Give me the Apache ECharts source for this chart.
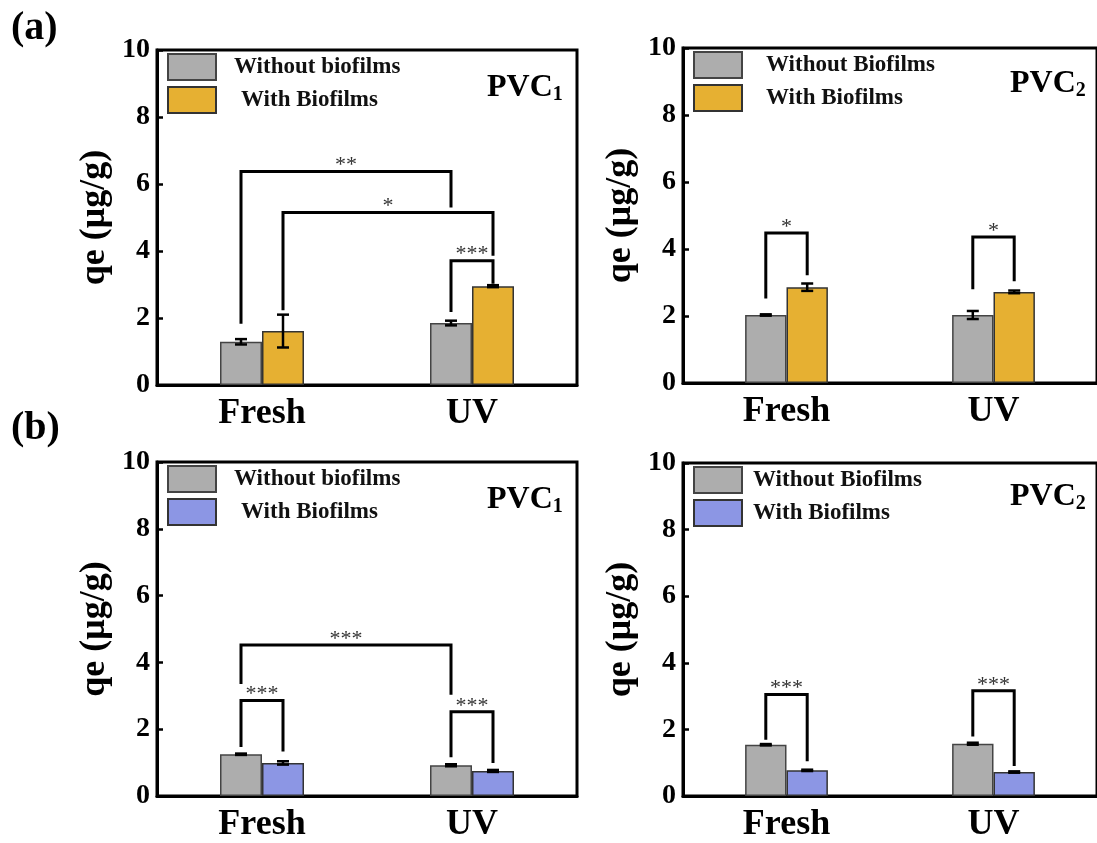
<!DOCTYPE html>
<html>
<head>
<meta charset="utf-8">
<script src="https://cdn.jsdelivr.net/npm/echarts@6/dist/echarts.min.js"></script>
<style>
  html, body { margin: 0; padding: 0; background: #fff; }
  #chart { width: 1097px; height: 843px; }
</style>
</head>
<body>
<div id="chart"></div>
<script>
// categories on x
const categories = ['Fresh', 'UV']

// (a) PVC1
const a1Without = [1.29, 1.85]
const a1WithoutErr = [0.08, 0.07]
const a1With = [1.61, 2.95]
const a1WithErr = [0.49, 0.03]
// (a) PVC2
const a2Without = [2.03, 2.03]
const a2WithoutErr = [0.02, 0.12]
const a2With = [2.86, 2.72]
const a2WithErr = [0.11, 0.04]
// (b) PVC1
const b1Without = [1.25, 0.92]
const b1WithoutErr = [0.02, 0.03]
const b1With = [0.99, 0.75]
const b1WithErr = [0.05, 0.03]
// (b) PVC2
const b2Without = [1.54, 1.57]
const b2WithoutErr = [0.02, 0.03]
const b2With = [0.77, 0.72]
const b2WithErr = [0.02, 0.02]

// significance brackets: [cat1, side1, cat2, side2, top, leftFoot, rightFoot]
const a1Sig = [[0, -1, 1, -1, 6.37, 1.83, 5.3], [0, 1, 1, 1, 5.15, 2.23, 3.86], [1, -1, 1, 1, 3.71, 2.18, 3.02]]
const a1Stars = ['**', '*', '***']
const a2Sig = [[0, -1, 0, 1, 4.48, 2.52, 3.22], [1, -1, 1, 1, 4.36, 2.8, 3.04]]
const a2Stars = ['*', '*']
const b1Sig = [[0, -1, 1, -1, 4.52, 3.35, 3.03], [0, -1, 0, 1, 2.86, 1.47, 1.33], [1, -1, 1, 1, 2.52, 1.16, 0.99]]
const b1Stars = ['***', '***', '***']
const b2Sig = [[0, -1, 0, 1, 3.05, 1.69, 1.04], [1, -1, 1, 1, 3.16, 1.79, 0.9]]
const b2Stars = ['***', '***']

const yTicks = [0, 2, 4, 6, 8, 10]

const FONT = '"Liberation Serif", "Times New Roman", serif'
const GRAY = '#adadad'
const YELLOW = '#e6b032'
const BLUE = '#8c96e4'

const grids = [
  { left: 157, top: 50, width: 420, height: 335 },
  { left: 683, top: 48, width: 416, height: 335 },
  { left: 157, top: 462, width: 420, height: 335 },
  { left: 683, top: 463, width: 416, height: 335 }
]

const panels = [
  { without: a1Without, withoutErr: a1WithoutErr, with: a1With, withErr: a1WithErr, color: YELLOW,
    sig: a1Sig, stars: a1Stars, names: ['Without biofilms', 'With Biofilms'], pad: [13, 20], sub: '1' },
  { without: a2Without, withoutErr: a2WithoutErr, with: a2With, withErr: a2WithErr, color: YELLOW,
    sig: a2Sig, stars: a2Stars, names: ['Without Biofilms', 'With Biofilms'], pad: [19, 19], sub: '2' },
  { without: b1Without, withoutErr: b1WithoutErr, with: b1With, withErr: b1WithErr, color: BLUE,
    sig: b1Sig, stars: b1Stars, names: ['Without biofilms', 'With Biofilms'], pad: [13, 20], sub: '1' },
  { without: b2Without, withoutErr: b2WithoutErr, with: b2With, withErr: b2WithErr, color: BLUE,
    sig: b2Sig, stars: b2Stars, names: ['Without Biofilms', 'With Biofilms'], pad: [6, 6], sub: '2' }
]

const pvcPos = [
  { left: 487, top: 71 },
  { left: 1010, top: 67 },
  { left: 487, top: 483 },
  { left: 1010, top: 480 }
]

function errorRender(side) {
  return function (params, api) {
    const band = api.size([1, 0])[0]
    const x = api.coord([api.value(0), 0])[0] + side * band * 0.1
    const hi = api.coord([api.value(0), api.value(1) + api.value(2)])[1]
    const lo = api.coord([api.value(0), api.value(1) - api.value(2)])[1]
    const w = 6
    const style = { stroke: '#000', lineWidth: 2.5, fill: null }
    return {
      type: 'group',
      children: [
        { type: 'line', shape: { x1: x, y1: hi, x2: x, y2: lo }, style },
        { type: 'line', shape: { x1: x - w, y1: hi, x2: x + w, y2: hi }, style },
        { type: 'line', shape: { x1: x - w, y1: lo, x2: x + w, y2: lo }, style }
      ]
    }
  }
}

function sigRender(stars) {
  return function (params, api) {
    const band = api.size([1, 0])[0]
    const xa = api.coord([api.value(0), 0])[0] + api.value(1) * band * 0.1
    const xb = api.coord([api.value(2), 0])[0] + api.value(3) * band * 0.1
    const yTop = api.coord([0, api.value(4)])[1]
    const yA = api.coord([0, api.value(5)])[1]
    const yB = api.coord([0, api.value(6)])[1]
    return {
      type: 'group',
      children: [
        { type: 'polyline', shape: { points: [[xa, yA], [xa, yTop], [xb, yTop], [xb, yB]] },
          style: { stroke: '#000', lineWidth: 3, fill: null } },
        { type: 'text', x: (xa + xb) / 2, y: yTop + 5,
          style: { text: stars[params.dataIndex], fill: '#333', font: '22px ' + FONT, align: 'center', verticalAlign: 'bottom' } }
      ]
    }
  }
}

const chart = echarts.init(document.getElementById('chart'))

const option = {
  animation: false,
  backgroundColor: '#fff',
  title: [
    { text: '(a)', left: 6, top: 4, textStyle: { fontFamily: FONT, fontWeight: 'bold', fontSize: 40, color: '#000' } },
    { text: '(b)', left: 6, top: 404, textStyle: { fontFamily: FONT, fontWeight: 'bold', fontSize: 40, color: '#000' } }
  ].concat(panels.map((p, i) => ({
    text: '{a|PVC}{s|' + p.sub + '}',
    left: pvcPos[i].left,
    top: pvcPos[i].top,
    padding: 0,
    textStyle: {
      rich: {
        a: { fontFamily: FONT, fontWeight: 'bold', fontSize: 32, color: '#000' },
        s: { fontFamily: FONT, fontWeight: 'bold', fontSize: 20, color: '#000', padding: [14, 0, 0, 0] }
      }
    }
  }))),
  legend: panels.map((p, i) => ({
    orient: 'vertical',
    left: grids[i].left + 10,
    top: grids[i].top + 3,
    padding: 0,
    itemWidth: 48,
    itemHeight: 26,
    itemGap: 5,
    icon: 'rect',
    selectedMode: false,
    data: [
      { name: 'p' + i + 'w0', textStyle: { padding: [0, 0, 0, p.pad[0]] } },
      { name: 'p' + i + 'w1', textStyle: { padding: [0, 0, 0, p.pad[1]] } }
    ],
    formatter: name => p.names[Number(name.slice(-1))],
    textStyle: { fontFamily: FONT, fontWeight: 'bold', fontSize: 23, color: '#111' }
  })),
  grid: grids.map(g => Object.assign({ show: true, borderColor: '#000', borderWidth: 3 }, g)),
  xAxis: grids.map((g, i) => ({
    type: 'category',
    gridIndex: i,
    data: categories,
    axisLine: { lineStyle: { color: '#000', width: 3 } },
    axisTick: { show: false },
    axisLabel: { fontFamily: FONT, fontWeight: 'bold', fontSize: 36, color: '#000', margin: 11 }
  })),
  yAxis: grids.map((g, i) => ({
    type: 'value',
    gridIndex: i,
    min: yTicks[0],
    max: yTicks[yTicks.length - 1],
    interval: yTicks[1] - yTicks[0],
    name: 'qe (μg/g)',
    nameLocation: 'middle',
    nameRotate: 90,
    nameGap: 44,
    nameTextStyle: { fontFamily: FONT, fontWeight: 'bold', fontSize: 36, color: '#000' },
    axisLine: { show: true, lineStyle: { color: '#000', width: 3 } },
    axisTick: { show: true, inside: true, length: 6, lineStyle: { color: '#000', width: 2.5 } },
    splitLine: { show: false },
    axisLabel: { fontFamily: FONT, fontWeight: 'bold', fontSize: 28, color: '#000', margin: 7 }
  })),
  series: []
}

panels.forEach((p, i) => {
  option.series.push(
    {
      name: 'p' + i + 'w0', type: 'bar', xAxisIndex: i, yAxisIndex: i,
      data: p.without, barWidth: '20%', barGap: '0%',
      itemStyle: { color: GRAY, borderColor: '#444', borderWidth: 1.5 }
    },
    {
      name: 'p' + i + 'w1', type: 'bar', xAxisIndex: i, yAxisIndex: i,
      data: p.with, barWidth: '20%', barGap: '0%',
      itemStyle: { color: p.color, borderColor: '#333', borderWidth: 1.5 }
    },
    {
      type: 'custom', xAxisIndex: i, yAxisIndex: i, clip: false, z: 5,
      renderItem: errorRender(-1),
      data: p.without.map((v, k) => [k, v, p.withoutErr[k]])
    },
    {
      type: 'custom', xAxisIndex: i, yAxisIndex: i, clip: false, z: 5,
      renderItem: errorRender(1),
      data: p.with.map((v, k) => [k, v, p.withErr[k]])
    },
    {
      type: 'custom', xAxisIndex: i, yAxisIndex: i, clip: false, z: 6,
      renderItem: sigRender(p.stars),
      data: p.sig
    }
  )
})

chart.setOption(option)
</script>
</body>
</html>
